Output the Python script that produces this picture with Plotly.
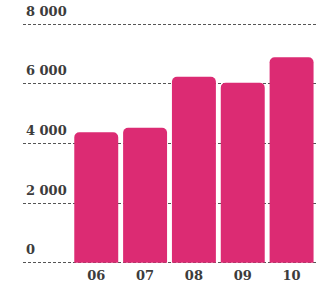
import plotly.graph_objects as go

years = ["06", "07", "08", "09", "10"]
values = [4380, 4530, 6240, 6040, 6890]
y_ticks = [0, 2000, 4000, 6000, 8000]

fig = go.Figure(go.Bar(
    x=list(range(len(years))), y=values,
    marker=dict(color="#dc2b73", line=dict(width=0)),
))

font = dict(family="DejaVu Serif", size=13, color="#3c3c3c", weight="bold")

fig.update_layout(
    width=318, height=286,
    margin=dict(l=23, r=2, t=23, b=22, autoexpand=False),
    paper_bgcolor="white", plot_bgcolor="white",
    bargap=0.1, barcornerradius=5,
    separators=", ",
    showlegend=False,
    xaxis=dict(
        range=[-1.5, 4.5], tickvals=list(range(len(years))), ticktext=years,
        showgrid=False, zeroline=False, showline=False, ticks="",
        tickfont=font, ticklabelstandoff=2,
    ),
    yaxis=dict(
        range=[-40, 8040], tickvals=y_ticks, tickformat=",d",
        showgrid=True, gridcolor="#555555", griddash="3px,2px", gridwidth=1,
        zeroline=False, showline=False, ticks="",
        ticklabelposition="inside top", ticklabeloverflow="allow",
        tickfont=font, ticklabelstandoff=0, ticklabelshift=-4,
    ),
)

fig.write_html(
    "out.html",
    config={"displayModeBar": False},
    post_script="document.body.style.margin='0';document.body.style.padding='0';",
)
